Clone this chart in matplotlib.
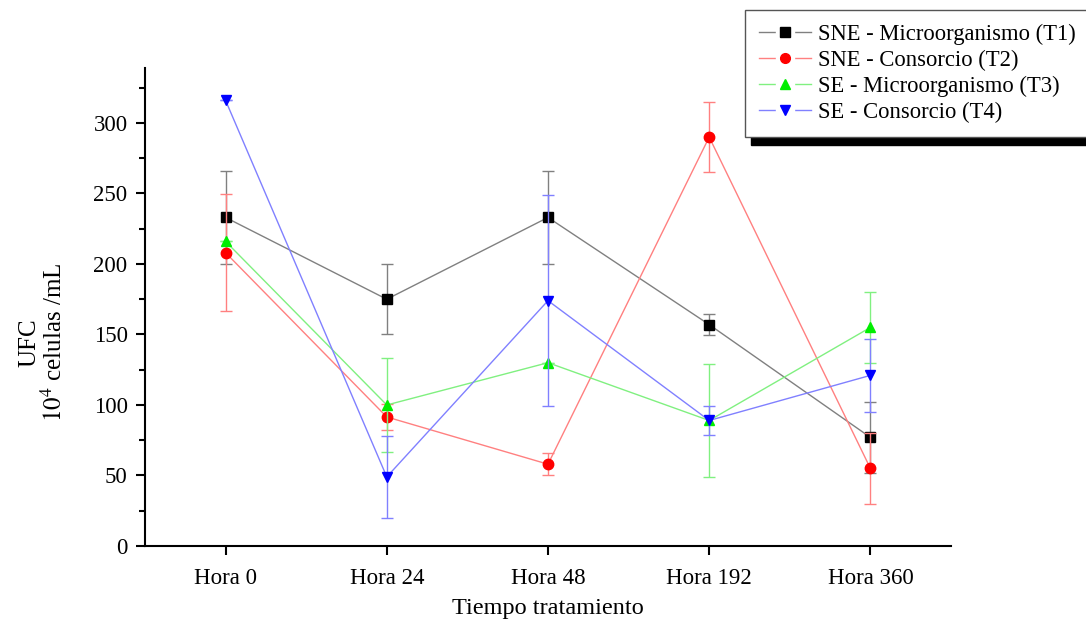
import matplotlib.pyplot as plt
from matplotlib.lines import Line2D
import numpy as np

plt.rcParams['font.family'] = ['Liberation Serif', 'DejaVu Serif']
plt.rcParams['mathtext.fontset'] = 'stix'

# Data
horas = ['Hora 0', 'Hora 24', 'Hora 48', 'Hora 192', 'Hora 360']
labels = ['SNE - Microorganismo (T1)', 'SNE - Consorcio (T2)',
          'SE - Microorganismo (T3)', 'SE - Consorcio (T4)']

t1 = [233, 175, 233, 157, 77]
t1_err = [33, 25, 33, 7.5, 25]
t2 = [208, 91.5, 58, 290, 55]
t2_err = [41.5, 9, 8, 25, 25]
t3 = [216, 100, 130, 89, 155]
t3_err = [0, 33, 0, 40, 25]
t4 = [316, 49, 174, 89, 121]
t4_err = [0, 29, 75, 10, 26]

series = [t1, t2, t3, t4]
errors = [t1_err, t2_err, t3_err, t4_err]
marker_colors = ['black', 'red', '#00ee00', 'blue']
line_colors = ['#808080', '#ff8080', '#80f080', '#8080ff']
markers = ['s', 'o', '^', 'v']

x = np.arange(len(horas))

fig = plt.figure(figsize=(10.86, 6.21), dpi=100)
ax = fig.add_axes([0.1335, 0.1208, 0.7422, 0.7697])

handles = []
for vals, err, mc, lc, m in zip(series, errors, marker_colors, line_colors, markers):
    ax.errorbar(x, vals, yerr=err, fmt='none', ecolor=lc, elinewidth=1, capsize=4, capthick=1)
    ax.plot(x, vals, color=lc, lw=1, marker=m, markersize=7.5,
            markerfacecolor=mc, markeredgecolor=mc)
    # legend proxy: line with a gap around the marker
    line = Line2D([], [], color=lc, lw=1)
    gap = Line2D([], [], ls='none', marker='s', markersize=13,
                 markerfacecolor='white', markeredgecolor='white')
    mark = Line2D([], [], ls='none', marker=m, markersize=7,
                  markerfacecolor=mc, markeredgecolor=mc)
    handles.append((line, gap, mark))

ax.set_xlim(-0.5, 4.5)
ax.set_ylim(0, 339)
ax.set_xticks(x)
ax.set_xticklabels(horas)
ax.set_yticks(np.arange(0, 301, 50))
ax.set_yticks(np.arange(25, 340, 50), minor=True)
ax.spines['top'].set_visible(False)
ax.spines['right'].set_visible(False)
for s in ['left', 'bottom']:
    ax.spines[s].set_linewidth(1.5)
ax.tick_params(axis='both', which='major', length=6.5, width=1.5, labelsize=16.5,
               direction='out', pad=6)
ax.tick_params(axis='x', which='major', pad=9)
ax.tick_params(axis='y', which='minor', length=4, width=1.5)

ax.set_xlabel('Tiempo tratamiento', fontsize=17.5, labelpad=7)
ax.set_ylabel('UFC\n$10^4$ celulas /mL', fontsize=18, linespacing=1.05)
ax.yaxis.set_label_coords(-0.097, 0.425)

fig.legend(handles=handles, labels=labels, loc='upper left',
           bbox_to_anchor=(0.676, 1.002), fontsize=16.3, frameon=True,
           fancybox=False, edgecolor='#555555', framealpha=1, borderpad=0.6,
           labelspacing=0.22, handlelength=2.3, handletextpad=0.3,
           shadow={'color': 'black', 'alpha': 1, 'ox': 4, 'oy': -6})

fig.savefig('out.png', dpi=100)
